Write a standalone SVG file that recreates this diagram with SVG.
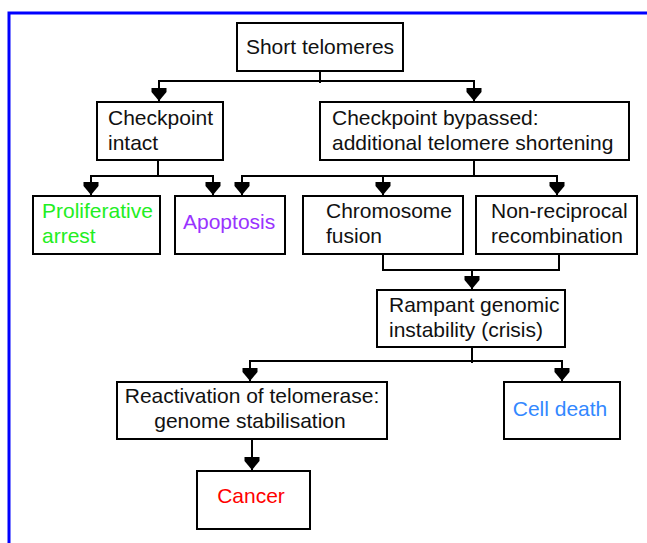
<svg xmlns="http://www.w3.org/2000/svg" width="647" height="543" viewBox="0 0 647 543">
<style>
.box{fill:#ffffff;stroke:#000000;stroke-width:2}
.t{font-family:"Liberation Sans",Arial,sans-serif;font-size:21px;fill:#111111}
.c{stroke:#000000;stroke-width:2;fill:none}
.a{marker-end:url(#arr)}
</style>
<defs>
<marker id="arr" markerUnits="userSpaceOnUse" markerWidth="16" markerHeight="16" refX="13" refY="7.5" orient="auto">
<path d="M0,0 L4,0 L13,7.5 L4,15 L0,15 Z" fill="#000000"/>
</marker>
</defs>
<rect width="647" height="543" fill="#ffffff"/>
<rect x="9" y="13" width="700" height="600" fill="none" stroke="#0000ff" stroke-width="3"/>
<g id="connectors">
<path class="c" d="M320,71 V83"/>
<path class="c a" d="M320,81 H159 V101"/>
<path class="c a" d="M320,81 H474 V101"/>
<path class="c a" d="M158,160 V176 H91 V195"/>
<path class="c a" d="M158,176 H213 V195"/>
<path class="c a" d="M474,160 V176 H242 V195"/>
<path class="c a" d="M474,176 H557 V195"/>
<path class="c a" d="M383,176 V195"/>
<path class="c" d="M383,254 V270 H559 V254"/>
<path class="c a" d="M472,270 V289"/>
<path class="c" d="M472,347 V363"/>
<path class="c a" d="M472,361 H250 V381"/>
<path class="c a" d="M472,361 H562 V381"/>
<path class="c a" d="M252,439 V470"/>
</g>
<g id="short-telomeres">
<rect class="box" x="237" y="23" width="166" height="48"/>
<text class="t" x="320" y="54" text-anchor="middle">Short telomeres</text>
</g>
<g id="checkpoint-intact">
<rect class="box" x="97" y="102" width="126" height="58"/>
<text class="t" x="108" y="125">Checkpoint</text>
<text class="t" x="108" y="150">intact</text>
</g>
<g id="checkpoint-bypassed">
<rect class="box" x="320" y="102" width="309" height="58"/>
<text class="t" x="332" y="125">Checkpoint bypassed:</text>
<text class="t" x="332" y="150">additional telomere shortening</text>
</g>
<g id="proliferative-arrest">
<rect class="box" x="33" y="196" width="127" height="58"/>
<text class="t" x="42" y="218" style="fill:#22ee22">Proliferative</text>
<text class="t" x="42" y="243" style="fill:#22ee22">arrest</text>
</g>
<g id="apoptosis">
<rect class="box" x="175" y="196" width="110" height="58"/>
<text class="t" x="183" y="229" style="fill:#9933ff">Apoptosis</text>
</g>
<g id="chromosome-fusion">
<rect class="box" x="303" y="196" width="160" height="58"/>
<text class="t" x="326" y="218">Chromosome</text>
<text class="t" x="326" y="243">fusion</text>
</g>
<g id="non-reciprocal">
<rect class="box" x="476" y="196" width="161" height="58"/>
<text class="t" x="491" y="218">Non-reciprocal</text>
<text class="t" x="491" y="243">recombination</text>
</g>
<g id="rampant">
<rect class="box" x="377" y="290" width="188" height="57"/>
<text class="t" x="389" y="312">Rampant genomic</text>
<text class="t" x="389" y="337">instability (crisis)</text>
</g>
<g id="reactivation">
<rect class="box" x="117" y="382" width="270" height="57"/>
<text class="t" x="252" y="403" text-anchor="middle">Reactivation of telomerase:</text>
<text class="t" x="250" y="428" text-anchor="middle">genome stabilisation</text>
</g>
<g id="cell-death">
<rect class="box" x="504" y="382" width="116" height="57"/>
<text class="t" x="560" y="416" text-anchor="middle" style="fill:#3388ff">Cell death</text>
</g>
<g id="cancer">
<rect class="box" x="197" y="471" width="113" height="58"/>
<text class="t" x="251" y="503" text-anchor="middle" style="fill:#ff0000">Cancer</text>
</g>
</svg>
